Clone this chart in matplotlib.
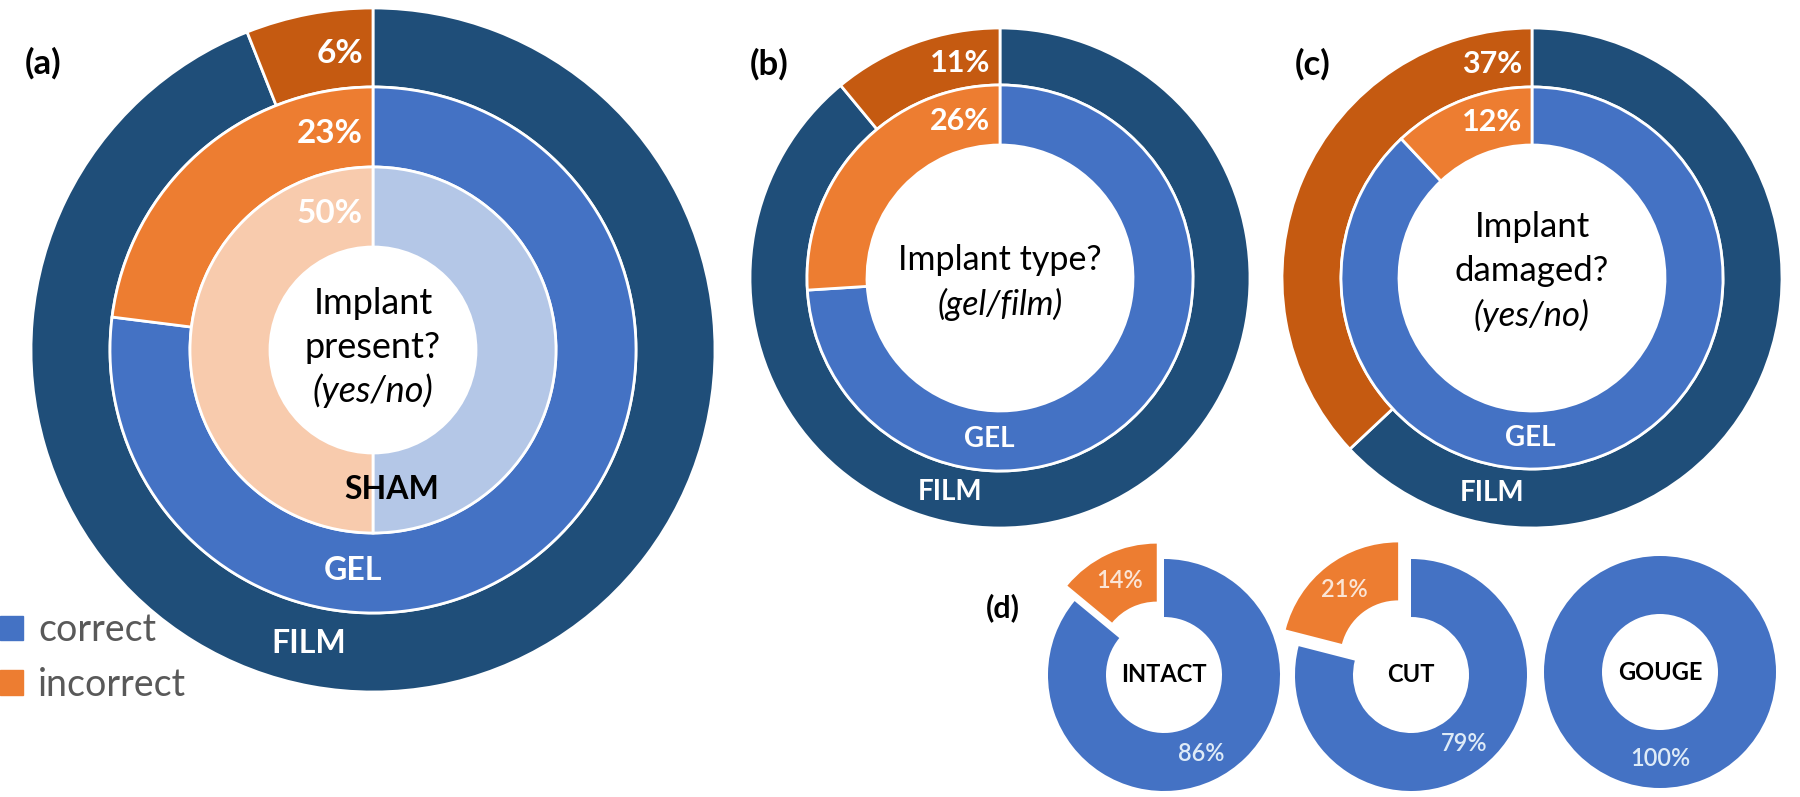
import numpy as np
import matplotlib.pyplot as plt
from matplotlib.patches import Patch

plt.rcParams['font.family'] = ['Lato', 'DejaVu Sans']

# colours used in the source figure
dark_blue, blue, light_blue = '#1F4E79', '#4472C4', '#B4C7E7'
dark_orange, orange, light_orange = '#C55A11', '#ED7D31', '#F8CBAD'

# (a) implant present? rings from outside in
a_rings = ['FILM', 'GEL', 'SHAM']
a_correct = [94, 77, 50]
a_incorrect = [6, 23, 50]

# (b) implant type?
b_rings = ['FILM', 'GEL']
b_correct = [89, 74]
b_incorrect = [11, 26]

# (c) implant damaged?
c_rings = ['FILM', 'GEL']
c_correct = [63, 88]
c_incorrect = [37, 12]

# (d) damage type
d_cases = ['INTACT', 'CUT', 'GOUGE']
d_correct = [86, 79, 100]
d_incorrect = [14, 21, 0]

W, H = 1800, 797
fig = plt.figure(figsize=(W / 100, H / 100), dpi=100)
ax = fig.add_axes([0, 0, 1, 1])


def nested_donut(cx, cy, radii, width, correct, incorrect, rings, ring_colors,
                 question, qsize, qshift, pct_size, ring_size, ring_dx, ring_colors_txt):
    """Draws one nested donut. cx, cy in pixels from the top-left corner."""
    Y = H - cy
    for k, r in enumerate(radii):
        ax.pie([correct[k], incorrect[k]], center=(cx, Y), radius=r,
               startangle=90, counterclock=False, colors=ring_colors[k],
               wedgeprops=dict(width=width[k], edgecolor='white', linewidth=2))
        r_mid = r - width[k] / 2
        ax.text(cx - 10, Y + r_mid - 6, f'{incorrect[k]}%', ha='right', va='center',
                color='white', fontsize=pct_size, fontweight='bold')
        dx = ring_dx[k]
        ax.text(cx + dx, Y - np.sqrt(r_mid ** 2 - dx ** 2) + 2, rings[k],
                ha='center', va='center', color=ring_colors_txt[k],
                fontsize=ring_size, fontweight='bold')
    n = len(question)
    for i, (txt, style) in enumerate(question):
        ax.text(cx, Y - (i - (n - 1) / 2) * 44 - qshift, txt, ha='center', va='center',
                fontsize=qsize, style=style, color='black')


# (a)
nested_donut(373, 350, [342, 263, 183], [79, 80, 80], a_correct, a_incorrect, a_rings,
             [[dark_blue, dark_orange], [blue, orange], [light_blue, light_orange]],
             [('Implant', 'normal'), ('present?', 'normal'), ('(yes/no)', 'italic')],
             26, -3, 24, 23, [-64, -20, 19], ['white', 'white', 'black'])
# (b)
nested_donut(1000, 278, [250, 193], [57, 60], b_correct, b_incorrect, b_rings,
             [[dark_blue, dark_orange], [blue, orange]],
             [('Implant type?', 'normal'), ('(gel/film)', 'italic')],
             24.5, 4, 22, 20, [-50, -11], ['white', 'white'])
# (c)
nested_donut(1532, 278, [250, 191], [59, 58], c_correct, c_incorrect, c_rings,
             [[dark_blue, dark_orange], [blue, orange]],
             [('Implant', 'normal'), ('damaged?', 'normal'), ('(yes/no)', 'italic')],
             25, -7, 22, 20, [-40, -2], ['white', 'white'])

# (d) small exploded donuts
d_centers = [(1164, 675), (1411, 675), (1660, 672)]
d_r = 116
for (cx, cy), name, cor, inc in zip(d_centers, d_cases, d_correct, d_incorrect):
    vals = [v for v in (cor, inc) if v > 0]
    cols = [blue, orange][:len(vals)]
    expl = [0, 17 if inc < 18 else 21][:len(vals)]
    wedges, texts, autotexts = ax.pie(
        vals, center=(cx, H - cy), radius=d_r, startangle=90, counterclock=False,
        colors=cols, explode=expl, autopct='%d%%', pctdistance=0.75,
        wedgeprops=dict(width=d_r / 2, linewidth=0),
        textprops=dict(fontsize=17, fontweight='semibold'))
    autotexts[0].set_color('#DEEBF7')
    if len(autotexts) > 1:
        autotexts[1].set_color('#FBE5D6')
    ax.text(cx, H - cy, name, ha='center', va='center', fontsize=17, fontweight='bold')

# panel letters
for lab, x, y, fs in [('(a)', 43, 63, 25), ('(b)', 769, 64, 25), ('(c)', 1313, 64, 25),
                      ('(d)', 1003, 608, 22)]:
    ax.text(x, H - y, lab, ha='center', va='center', fontsize=fs, fontweight='bold')

ax.set_xlim(0, W)
ax.set_ylim(0, H)
ax.set_aspect('equal')
ax.axis('off')

fig.legend(handles=[Patch(color=blue), Patch(color=orange)], labels=['correct', 'incorrect'],
           loc='upper left', bbox_to_anchor=(0.0, 1 - 612 / H), frameon=False,
           fontsize=27, labelcolor='#595959', handlelength=0.62, handleheight=0.62,
           handletextpad=0.4, labelspacing=0.5, borderaxespad=0, borderpad=0)

fig.savefig('out.png', dpi=100)
